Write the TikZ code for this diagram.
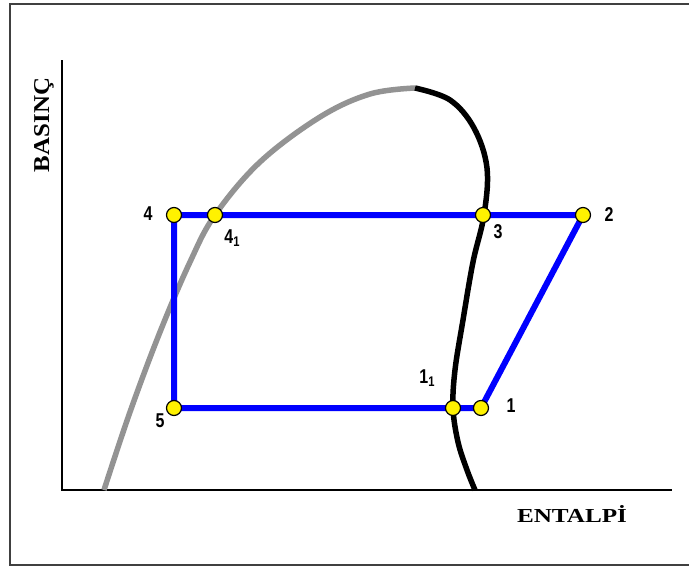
\documentclass[tikz,border=0pt]{standalone}
\usepackage{fontspec}
\setmainfont{Liberation Serif}
\newfontfamily\numfont[FakeStretch=0.8]{Liberation Sans}
\begin{document}
\begin{tikzpicture}[x=1pt,y=-1pt,
  pt/.style={circle,draw=black,fill=yellow,line width=1.2pt,minimum size=15pt,inner sep=0pt},
  cyc/.style={draw=blue,line width=6pt},
  lbl/.style={font=\numfont\bfseries\fontsize{20}{20}\selectfont,inner sep=0pt},
  axl/.style={font=\bfseries\fontsize{20}{20}\selectfont,inner sep=0pt},
  sat/.style={line width=5.5pt}]
\useasboundingbox (0,0) rectangle (689,568);
% frame
\draw[line width=2pt,draw=black!75] (689,4) -- (10,4) -- (10,565) -- (689,565);
% axes
\coordinate (O) at (62,490);
\coordinate (Ytop) at (62,60);
\coordinate (Xend) at (672,490);
\draw[line width=2.5pt] (Ytop) -- (O) -- (Xend);
% saturation curves
\draw[sat,draw=gray!85] plot[smooth,tension=0.6] coordinates {(104,490) (130,412) (160,332) (190,262) (215,215) (260,162) (320,117) (370,94) (415,88)};
\draw[sat,draw=black] plot[smooth,tension=0.6] coordinates {(415,88) (450,100) (474,128) (487,168) (484,215) (473,262) (463,320) (455,370) (453,408) (458,442) (467,470) (475,490)};
% cycle state coordinates
\coordinate (c4) at (174,215);
\coordinate (c41) at (215,215);
\coordinate (c3) at (483,215);
\coordinate (c2) at (583,215);
\coordinate (c5) at (174,408);
\coordinate (c11) at (453,408);
\coordinate (c1) at (481,408);
% cycle lines
\draw[cyc] (c4) -- (c41) -- (c3) -- (c2) -- (c1) -- (c11) -- (c5) -- cycle;
% points
\node[pt] (p4) at (c4) {};
\node[pt] (p41) at (c41) {};
\node[pt] (p3) at (c3) {};
\node[pt] (p2) at (c2) {};
\node[pt] (p5) at (c5) {};
\node[pt] (p11) at (c11) {};
\node[pt] (p1) at (c1) {};
% labels
\node[lbl] (l4) at (148,214) {4};
\node[lbl] (l41) at (232,238) {4\raisebox{-0.35ex}{\fontsize{14}{14}\selectfont 1}};
\node[lbl] (l3) at (498,232) {3};
\node[lbl] (l2) at (609,215) {2};
\node[lbl] (l5) at (160,421) {5};
\node[lbl] (l11) at (427,378) {1\raisebox{-0.35ex}{\fontsize{14}{14}\selectfont 1}};
\node[lbl] (l1) at (511,406) {1};
\node[axl,rotate=90] (yl) at (44,125) {\resizebox{94pt}{15pt}{BASINÇ}};
\node[axl] (xl) at (572,514) {\resizebox{110pt}{17pt}{ENTALPİ}};
\end{tikzpicture}
\end{document}
